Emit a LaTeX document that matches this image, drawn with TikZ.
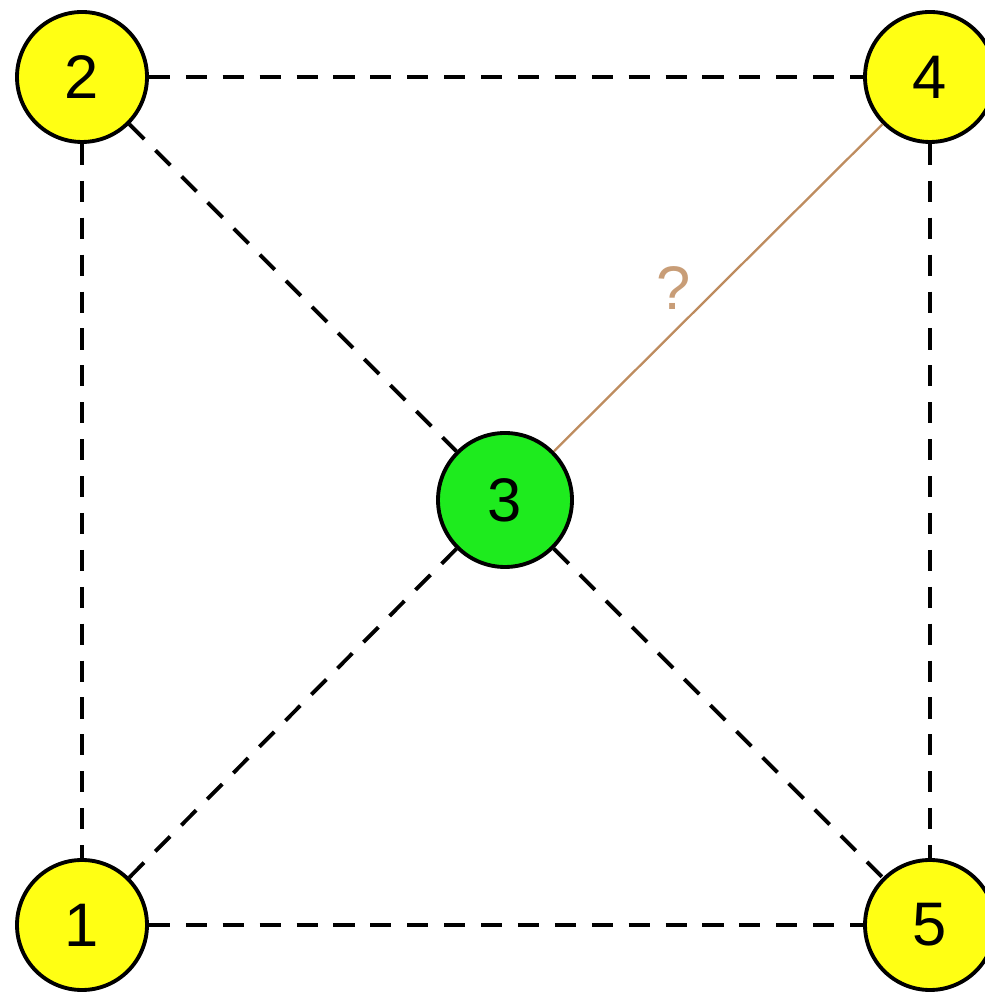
\documentclass[tikz,border=0pt]{standalone}
\usepackage{fontspec}
\setmainfont{Liberation Sans}
\usepackage{tikz}
\definecolor{peeryellow}{RGB}{255,255,20}
\definecolor{hubgreen}{RGB}{30,235,30}
\definecolor{probebrown}{RGB}{190,140,95}

\begin{document}
\begin{tikzpicture}[
  font=\fontsize{35}{38}\selectfont,
  peer/.style={circle, draw=black, fill=peeryellow, line width=2.2pt, minimum size=2.6cm, inner sep=0pt},
  hub/.style={circle, draw=black, fill=hubgreen, line width=2.2pt, minimum size=2.68cm, inner sep=0pt},
  link/.style={draw=black, line width=2.2pt, dash pattern=on 12pt off 9pt},
  probe/.style={draw=probebrown, line width=1.3pt},
  probelabel/.style={text=probebrown!85!white}
]
\useasboundingbox (0,0) rectangle (19.68,19.84);

\node[peer] (ptwo) at (1.64,18.3) {2};
\node[peer] (pfour) at (18.6,18.3) {4};
\node[hub] (hub) at (10.1,9.84) {3};
\node[peer] (pone) at (1.64,1.34) {1};
\node[peer] (pfive) at (18.6,1.34) {5};

% links between the circles
\draw[link] (ptwo) -- (pfour);
\draw[link] (ptwo) -- (pone);
\draw[link] (pfour) -- (pfive);
\draw[link] (pone) -- (pfive);
\draw[link] (ptwo) -- (hub);
\draw[link] (pone) -- (hub);
\draw[link] (hub) -- (pfive);
\draw[probe] (hub) -- node[probelabel, midway, xshift=-0.9cm] {?} (pfour);
\end{tikzpicture}
\end{document}
